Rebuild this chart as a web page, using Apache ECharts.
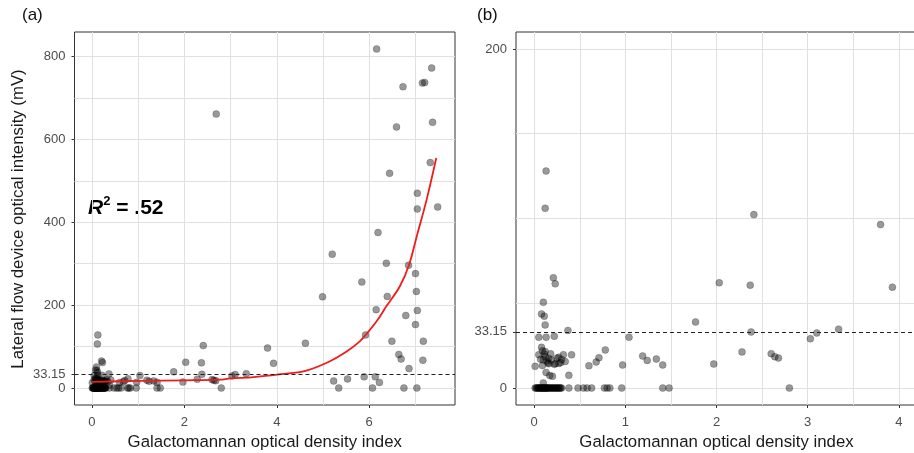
<!DOCTYPE html>
<html>
<head>
<meta charset="utf-8">
<script src="https://cdn.jsdelivr.net/npm/echarts@6/dist/echarts.min.js"></script>
<style>
  html, body { margin: 0; padding: 0; background: #ffffff; }
  #chart { width: 914px; height: 453px; }
</style>
</head>
<body>
<div id="chart"></div>
<script>
// Galactomannan optical density index (x) vs lateral flow device intensity in mV (y)

// samples with low index (x < 0.5)
const lowIndexSamples = [
  [0.01,0],[0.02,0],[0.03,0],[0.04,0],[0.05,0],[0.05,0],[0.06,0],[0.07,0],[0.08,0],[0.08,0],
  [0.09,0],[0.10,0],[0.10,0],[0.11,0],[0.12,0],[0.12,0],[0.13,0],[0.14,0],[0.14,0],[0.15,0],
  [0.16,0],[0.17,0],[0.18,0],[0.19,0],[0.20,0],[0.21,0],[0.22,0],[0.23,0],[0.24,0],[0.25,0],
  [0.26,0],[0.27,0],[0.28,0],[0.29,0],[0.30,0],[0.38,0],[0.48,0],
  [0.10,3],[0.13,9.2],[0.17,7.4],[0.20,6.9],[0.38,7.5],
  [0.01,12.8],[0.09,13.3],[0.16,14.4],[0.22,14.0],[0.29,15.0],[0.34,15.7],
  [0.15,14.8],[0.23,14.4],[0.27,14.5],
  [0.07,17.0],[0.10,16.5],[0.12,18.5],[0.14,16.0],[0.16,17.5],[0.19,16.5],[0.30,16.8],
  [0.05,19.7],[0.11,20.1],[0.18,20.2],[0.25,17.7],[0.32,19.7],[0.41,19.6],[0.27,18.1],
  [0.09,22.0],[0.12,21.5],[0.08,24.0],
  [0.05,30.0],[0.13,30.0],[0.22,30.6],[0.37,34.0],
  [0.12,37.2],[0.11,42.4],[0.08,43.7],[0.10,50.6],
  [0.23,61.5],[0.21,65.0],[0.12,106],[0.13,128]
];

// samples with index between 0.5 and 4
const midIndexSamples = [
  [0.54,0],[0.58,0],[0.63,0],[0.77,0],[0.80,0],[0.83,0],[0.96,0],[1.41,0],[1.48,0],[2.80,0],
  [0.60,13.2],[0.68,15.4],[0.71,17.9],[0.78,22.5],[0.97,13.6],[1.04,30.0],
  [1.19,18.9],[1.24,16.3],[1.34,17.1],[1.41,13.6],[1.77,39.0],[1.97,14.2],
  [2.03,62.1],[2.37,60.7],[2.41,102.3],[2.38,33.1],[2.28,21.3],
  [2.60,20.3],[2.64,18.5],[2.68,17.7],[3.03,29.1],[3.10,32.5],[3.34,34.7],
  [3.80,96.4],[3.93,59.5],[2.69,661]
];

// samples with high index (x > 4)
const highIndexSamples = [
  [4.62,108],[4.99,220],[5.20,323],[5.23,17],[5.34,0],[5.53,22],[5.84,256],[5.89,27],[5.92,128],
  [6.07,0],[6.13,27],[6.15,189],[6.16,818],[6.19,375],[6.22,13.5],[6.37,301],[6.39,221],
  [6.44,518],[6.49,113],[6.59,630],[6.64,81],[6.69,70],[6.73,727],[6.75,0],[6.79,175],
  [6.85,296],[6.86,47],[7.00,276],[7.02,233],[7.00,153],[7.03,0],[7.04,187],[7.04,432],
  [7.04,470],[7.15,736],[7.16,67],[7.17,113],[7.20,737],[7.32,544],[7.35,772],[7.37,641],[7.48,437]
];

// fitted trend (panel a)
const fitIndex = [0, 1, 2, 2.76, 3, 3.5, 4.21, 4.64, 5.14, 5.51, 5.79, 5.92, 6.16, 6.37, 6.66, 6.86, 7.03, 7.24, 7.45];
const fitMv    = [15, 17, 18.5, 20, 23, 26.5, 34.5, 42, 64, 88, 112, 128, 161, 197, 245, 297, 367, 454, 555];

const positivityCutoff = 33.15;

// axis breaks
const panelA_yLabels = [0, 33.15, 200, 400, 600, 800];
const panelA_yGrid   = [0, 100, 200, 300, 400, 500, 600, 700, 800];
const panelA_xLabels = [0, 2, 4, 6];
const panelA_xGrid   = [0, 1, 2, 3, 4, 5, 6, 7];
const panelB_yLabels = [0, 33.15, 200];
const panelB_yGrid   = [0, 50, 100, 150, 200];
const panelB_xLabels = [0, 1, 2, 3, 4];
const panelB_xGrid   = [0, 0.5, 1, 1.5, 2, 2.5, 3, 3.5, 4];

const allSamples = lowIndexSamples.concat(midIndexSamples, highIndexSamples);
const fitLine = fitIndex.map((x, i) => [x, fitMv[i]]);

const FONT = '"Liberation Sans", Arial, sans-serif';
const GRID_COLOR = '#e0e0e0';
const TICK_COLOR = '#4d4d4d';

function gridAxis(gridIndex, min, max, lines, position) {
  return {
    type: 'value', gridIndex, min, max, position,
    axisLine: { show: false, onZero: false },
    axisTick: { show: false, customValues: lines },
    axisLabel: { show: false },
    splitLine: { show: true, lineStyle: { color: GRID_COLOR, width: 1 } }
  };
}
function labelAxis(gridIndex, min, max, labels, position, extra) {
  return Object.assign({
    type: 'value', gridIndex, min, max, position,
    axisLine: { show: false, onZero: false },
    axisTick: { show: true, length: 3, customValues: labels, lineStyle: { color: '#333', width: 1 } },
    axisLabel: {
      customValues: labels, color: TICK_COLOR, fontSize: 13, fontFamily: FONT,
      margin: position === 'left' ? 9 : 11,
      formatter: v => String(v)
    },
    splitLine: { show: false }
  }, extra || {});
}

const xTitle = {
  name: 'Galactomannan optical density index',
  nameLocation: 'middle', nameGap: 29,
  nameTextStyle: { color: '#1a1a1a', fontSize: 16.8, fontFamily: FONT }
};

const pointStyle = {
  color: 'rgba(0,0,0,0.5)',
  borderColor: 'rgba(0,0,0,0.4)',
  borderWidth: 0.6
};

const cutoffLine = {
  silent: true, symbol: 'none', animation: false,
  label: { show: false },
  lineStyle: { color: '#222', type: [4, 3], width: 1 },
  data: [{ yAxis: positivityCutoff }]
};

const chart = echarts.init(document.getElementById('chart'), null, { renderer: 'canvas' });
chart.setOption({
  animation: false,
  backgroundColor: '#ffffff',
  grid: [
    { left: 74.5, top: 32, width: 380.5, height: 373, show: true, borderColor: '#333', borderWidth: 1, outerBoundsMode: 'none', containLabel: false },
    { left: 516, top: 32, width: 401, height: 373, show: true, borderColor: '#333', borderWidth: 1, outerBoundsMode: 'none', containLabel: false }
  ],
  xAxis: [
    gridAxis(0, -0.375, 7.855, panelA_xGrid, 'bottom'),
    labelAxis(0, -0.375, 7.855, panelA_xLabels, 'bottom', xTitle),
    gridAxis(1, -0.2, 4.2, panelB_xGrid, 'bottom'),
    labelAxis(1, -0.2, 4.2, panelB_xLabels, 'bottom', xTitle)
  ],
  yAxis: [
    gridAxis(0, -41, 859, panelA_yGrid, 'left'),
    labelAxis(0, -41, 859, panelA_yLabels, 'left'),
    gridAxis(1, -10, 210, panelB_yGrid, 'left'),
    labelAxis(1, -10, 210, panelB_yLabels, 'left')
  ],
  graphic: [
    { type: 'text', left: 22, top: 7, style: { text: '(a)', fontSize: 17, fontFamily: FONT, fill: '#111' } },
    { type: 'text', left: 477, top: 7, style: { text: '(b)', fontSize: 17, fontFamily: FONT, fill: '#111' } },
    {
      type: 'text', x: 18.5, y: 219, rotation: Math.PI / 2,
      style: {
        text: 'Lateral flow device optical intensity (mV)', fontSize: 16.8, fontFamily: FONT,
        fill: '#1a1a1a', align: 'center', verticalAlign: 'middle'
      }
    },
    {
      type: 'text', x: 88, y: 207,
      style: {
        text: '{r|R}{s|2}{t| = .52}',
        verticalAlign: 'middle',
        rich: {
          r: { fontSize: 21, fontStyle: 'italic', fontWeight: 'bold', fontFamily: FONT, fill: '#000', lineHeight: 24, verticalAlign: 'bottom' },
          s: { fontSize: 13, fontWeight: 'bold', fontFamily: FONT, fill: '#000', lineHeight: 24, verticalAlign: 'top' },
          t: { fontSize: 21, fontWeight: 'bold', fontFamily: FONT, fill: '#000', lineHeight: 24, verticalAlign: 'bottom' }
        }
      }
    }
  ],
  series: [
    {
      type: 'scatter', xAxisIndex: 0, yAxisIndex: 0, data: allSamples,
      symbolSize: 7, itemStyle: pointStyle, markLine: cutoffLine, z: 3
    },
    {
      type: 'line', xAxisIndex: 0, yAxisIndex: 0, data: fitLine,
      showSymbol: false, smooth: 0.35, lineStyle: { color: '#ee1c1c', width: 1.8 }, z: 4
    },
    {
      type: 'scatter', xAxisIndex: 2, yAxisIndex: 2, data: allSamples,
      symbolSize: 7, itemStyle: pointStyle, markLine: cutoffLine, clip: true, z: 3
    }
  ]
});
</script>
</body>
</html>
